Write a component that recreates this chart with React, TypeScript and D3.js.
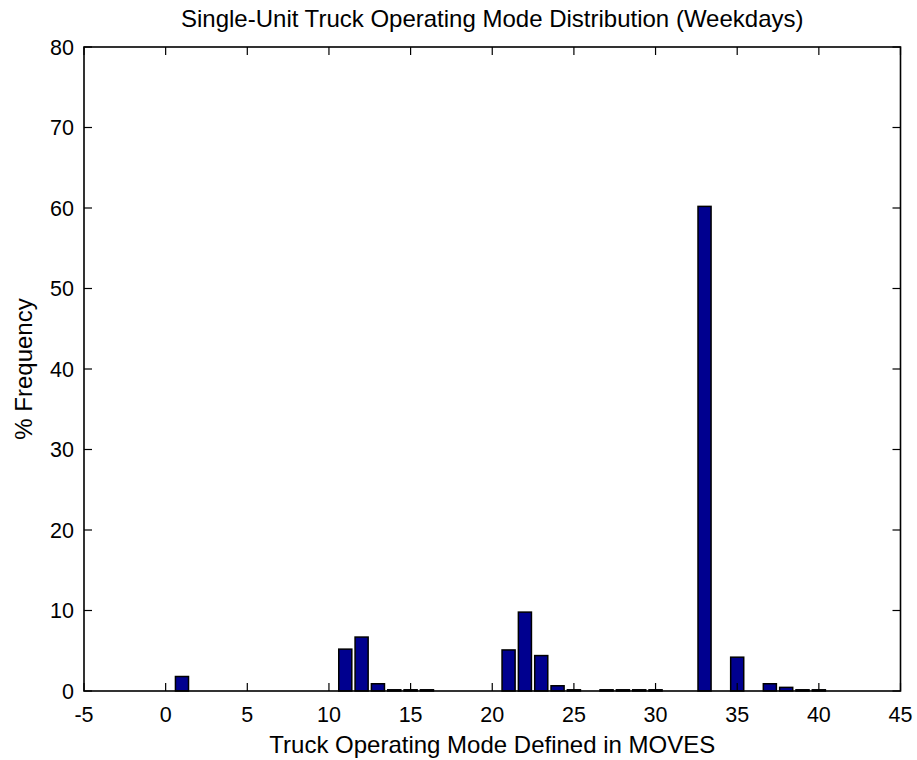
import React from "react";
import * as d3 from "d3";

const modes = [1, 11, 12, 13, 14, 15, 16, 21, 22, 23, 24, 25, 27, 28, 29, 30, 33, 35, 37, 38, 39, 40];
const values = [1.8, 5.2, 6.7, 0.9, 0.15, 0.15, 0.15, 5.1, 9.8, 4.4, 0.65, 0.15, 0.15, 0.15, 0.15, 0.15, 60.2, 4.2, 0.9, 0.45, 0.15, 0.15];
const xTicks = [-5, 0, 5, 10, 15, 20, 25, 30, 35, 40, 45];
const yTicks = [0, 10, 20, 30, 40, 50, 60, 70, 80];
const title = "Single-Unit Truck Operating Mode Distribution (Weekdays)";
const xLabel = "Truck Operating Mode Defined in MOVES";
const yLabel = "% Frequency";

export default function App() {
  const W = 917, H = 760;
  const left = 84, right = 900.5, top = 47, bottom = 691;
  const x = d3.scaleLinear().domain([-5, 45]).range([left, right]);
  const y = d3.scaleLinear().domain([0, 80]).range([bottom, top]);
  const bw = 0.8;
  const tl = 8;
  const font = "Liberation Sans, Arial, sans-serif";
  return (
    <svg width={W} height={H} style={{ position: "absolute", left: 0, top: 0, background: "#fff" }} fontFamily={font}>
      <rect x={0} y={0} width={W} height={H} fill="#fff" />
      {modes.map((m, i) => (
        <rect key={m} x={x(m - bw / 2)} y={y(values[i])} width={x(m + bw / 2) - x(m - bw / 2)}
          height={y(0) - y(values[i])} fill="#00008F" stroke="#000" strokeWidth={1.5} />
      ))}
      <rect x={left} y={top} width={right - left} height={bottom - top} fill="none" stroke="#000" strokeWidth={1.6} />
      {xTicks.map(t => (
        <g key={"x" + t}>
          <line x1={x(t)} x2={x(t)} y1={bottom} y2={bottom - tl} stroke="#000" strokeWidth={1.2} />
          <line x1={x(t)} x2={x(t)} y1={top} y2={top + tl} stroke="#000" strokeWidth={1.2} />
          <text x={x(t)} y={722} textAnchor="middle" fontSize={21.5}>{t}</text>
        </g>
      ))}
      {yTicks.map(t => (
        <g key={"y" + t}>
          <line x1={left} x2={left + tl} y1={y(t)} y2={y(t)} stroke="#000" strokeWidth={1.2} />
          <line x1={right} x2={right - tl} y1={y(t)} y2={y(t)} stroke="#000" strokeWidth={1.2} />
          <text x={left - 10} y={y(t)} dy="0.36em" textAnchor="end" fontSize={21.5}>{t}</text>
        </g>
      ))}
      <text x={(left + right) / 2} y={27} textAnchor="middle" fontSize={24}>{title}</text>
      <text x={(left + right) / 2} y={753} textAnchor="middle" fontSize={24}>{xLabel}</text>
      <text transform={`translate(32,${(top + bottom) / 2}) rotate(-90)`} textAnchor="middle" fontSize={24}>{yLabel}</text>
    </svg>
  );
}
